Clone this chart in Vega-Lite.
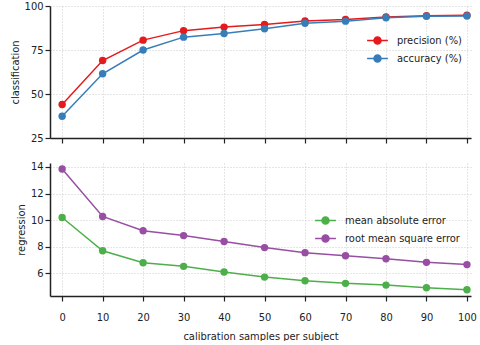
{
  "$schema": "https://vega.github.io/schema/vega-lite/v6.json",
  "background": "white",
  "padding": {"left": 9, "top": 0, "right": 4, "bottom": 0},
  "spacing": 16,
  "config": {
    "font": "DejaVu Sans Condensed",
    "view": {"stroke": null},
    "axis": {
      "labelFont": "DejaVu Sans Condensed",
      "labelFontSize": 11,
      "titleFont": "DejaVu Sans Condensed",
      "titleFontSize": 11,
      "titleFontWeight": "normal",
      "labelColor": "#222222",
      "titleColor": "#222222",
      "domainColor": "#222222",
      "tickColor": "#222222",
      "domainWidth": 1.5,
      "tickWidth": 1.2,
      "tickSize": 5,
      "gridColor": "#cccccc",
      "gridDash": [1, 2],
      "gridWidth": 1
    },
    "legend": {
      "labelFont": "DejaVu Sans Condensed",
      "labelFontSize": 11,
      "labelColor": "#222222",
      "symbolType": "M-1.6,0H1.6M-0.54,0A0.54,0.54 0 1,0 0.54,0A0.54,0.54 0 1,0 -0.54,0Z",
      "symbolSize": 169,
      "symbolStrokeWidth": 1.5,
      "labelOffset": 12,
      "rowPadding": 3
    }
  },
  "resolve": {"scale": {"color": "independent"}, "legend": {"color": "independent"}},
  "datasets": {
    "cls": [
      {"samples": 0, "series": "precision (%)", "value": 44},
      {"samples": 10, "series": "precision (%)", "value": 69},
      {"samples": 20, "series": "precision (%)", "value": 80.6},
      {"samples": 30, "series": "precision (%)", "value": 86},
      {"samples": 40, "series": "precision (%)", "value": 88},
      {"samples": 50, "series": "precision (%)", "value": 89.5},
      {"samples": 60, "series": "precision (%)", "value": 91.5},
      {"samples": 70, "series": "precision (%)", "value": 92.3},
      {"samples": 80, "series": "precision (%)", "value": 93.8},
      {"samples": 90, "series": "precision (%)", "value": 94.5},
      {"samples": 100, "series": "precision (%)", "value": 94.7},
      {"samples": 0, "series": "accuracy (%)", "value": 37.4},
      {"samples": 10, "series": "accuracy (%)", "value": 61.5},
      {"samples": 20, "series": "accuracy (%)", "value": 75},
      {"samples": 30, "series": "accuracy (%)", "value": 82.3},
      {"samples": 40, "series": "accuracy (%)", "value": 84.4},
      {"samples": 50, "series": "accuracy (%)", "value": 87.1},
      {"samples": 60, "series": "accuracy (%)", "value": 90.2},
      {"samples": 70, "series": "accuracy (%)", "value": 91.4},
      {"samples": 80, "series": "accuracy (%)", "value": 93.3},
      {"samples": 90, "series": "accuracy (%)", "value": 94.2},
      {"samples": 100, "series": "accuracy (%)", "value": 94.3}
    ],
    "reg": [
      {"samples": 0, "series": "mean absolute error", "value": 10.2},
      {"samples": 10, "series": "mean absolute error", "value": 7.7},
      {"samples": 20, "series": "mean absolute error", "value": 6.8},
      {"samples": 30, "series": "mean absolute error", "value": 6.53},
      {"samples": 40, "series": "mean absolute error", "value": 6.1},
      {"samples": 50, "series": "mean absolute error", "value": 5.72},
      {"samples": 60, "series": "mean absolute error", "value": 5.45},
      {"samples": 70, "series": "mean absolute error", "value": 5.25},
      {"samples": 80, "series": "mean absolute error", "value": 5.12},
      {"samples": 90, "series": "mean absolute error", "value": 4.92},
      {"samples": 100, "series": "mean absolute error", "value": 4.77},
      {"samples": 0, "series": "root mean square error", "value": 13.85},
      {"samples": 10, "series": "root mean square error", "value": 10.28},
      {"samples": 20, "series": "root mean square error", "value": 9.2},
      {"samples": 30, "series": "root mean square error", "value": 8.84},
      {"samples": 40, "series": "root mean square error", "value": 8.4},
      {"samples": 50, "series": "root mean square error", "value": 7.94},
      {"samples": 60, "series": "root mean square error", "value": 7.56},
      {"samples": 70, "series": "root mean square error", "value": 7.33},
      {"samples": 80, "series": "root mean square error", "value": 7.1},
      {"samples": 90, "series": "root mean square error", "value": 6.83},
      {"samples": 100, "series": "root mean square error", "value": 6.66}
    ]
  },
  "vconcat": [
    {
      "width": 421,
      "height": 132,
      "data": {"name": "cls"},
      "encoding": {
        "x": {"field": "samples", "type": "quantitative",
              "scale": {"domain": [-3, 101], "nice": false, "zero": false},
              "axis": {"values": [0,10,20,30,40,50,60,70,80,90,100], "labels": false, "title": null}},
        "y": {"field": "value", "type": "quantitative",
              "scale": {"domain": [25, 100], "nice": false, "zero": false},
              "axis": {"values": [25, 50, 75, 100], "title": "classification"}},
        "color": {"field": "series", "type": "nominal",
                  "scale": {"domain": ["precision (%)", "accuracy (%)"], "range": ["#e41a1c", "#377eb8"]},
                  "legend": {"title": null, "orient": "none", "legendX": 320, "legendY": 27}}
      },
      "layer": [
        {"mark": {"type": "line", "strokeWidth": 1.5}},
        {"mark": {"type": "point", "filled": true, "size": 55, "opacity": 1}}
      ]
    },
    {
      "width": 421,
      "height": 133,
      "data": {"name": "reg"},
      "encoding": {
        "x": {"field": "samples", "type": "quantitative",
              "scale": {"domain": [-3, 101], "nice": false, "zero": false},
              "axis": {"values": [0,10,20,30,40,50,60,70,80,90,100], "title": "calibration samples per subject", "labelPadding": 10, "titlePadding": 8}},
        "y": {"field": "value", "type": "quantitative",
              "scale": {"domain": [4.3, 14.3], "nice": false, "zero": false},
              "axis": {"values": [6, 8, 10, 12, 14], "title": "regression"}},
        "color": {"field": "series", "type": "nominal",
                  "scale": {"domain": ["mean absolute error", "root mean square error"], "range": ["#4daf4a", "#984ea3"]},
                  "legend": {"title": null, "orient": "none", "legendX": 268, "legendY": 50}}
      },
      "layer": [
        {"mark": {"type": "line", "strokeWidth": 1.5}},
        {"mark": {"type": "point", "filled": true, "size": 55, "opacity": 1}}
      ]
    }
  ]
}
